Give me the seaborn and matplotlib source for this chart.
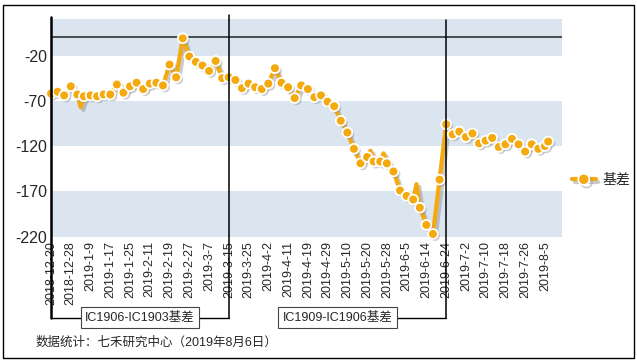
import pandas as pd
import numpy as np
import matplotlib.pyplot as plt
import matplotlib.patheffects as pe
from matplotlib.lines import Line2D
from matplotlib.patches import Rectangle
import seaborn as sb

# trading calendar (SSE holidays in the period)
holidays = ['2018-12-31', '2019-01-01', '2019-02-04', '2019-02-05', '2019-02-06',
            '2019-02-07', '2019-02-08', '2019-04-05', '2019-05-01', '2019-05-02',
            '2019-05-03', '2019-06-07']
trade_days = pd.bdate_range('2018-12-20', '2019-08-06', freq='C', holidays=holidays)

# basis read every second trading day (2018-12-20 ... 2019-8-5), then 2019-8-6
basis = [-62, -60, -64, -54, -63, -65, -64, -65, -63, -63,
         -52, -61, -54, -50, -57, -51, -50, -53, -30, -44,
         -1, -21, -27, -31, -37, -26, -45, -44, -47, -56,
         -51, -55, -57, -51, -34, -50, -55, -67, -53, -57,
         -66, -64, -71, -76, -92, -105, -123, -139, -132, -137,
         -137, -139, -148, -169, -175, -179, -188, -207, -217, -157,
         -96, -107, -104, -110, -106, -117, -114, -111, -121, -118,
         -112, -118, -126, -118, -123, -120]
last_basis = -115

# in-between days where the line spikes without a marker
spike_days = ['2019-01-04', '2019-05-21', '2019-05-27', '2019-06-11']
spike_vals = [-77, -125, -128, -162]

tick_labels = ['2018-12-20', '2018-12-28', '2019-1-9', '2019-1-17', '2019-1-25',
               '2019-2-11', '2019-2-19', '2019-2-27', '2019-3-7', '2019-3-15',
               '2019-3-25', '2019-4-2', '2019-4-11', '2019-4-19', '2019-4-29',
               '2019-5-10', '2019-5-20', '2019-5-28', '2019-6-5', '2019-6-14',
               '2019-6-24', '2019-7-2', '2019-7-10', '2019-7-18', '2019-7-26',
               '2019-8-5']
period_ends = ['2019-3-15', '2019-6-24']
period_names = ['IC1906-IC1903基差', 'IC1909-IC1906基差']
y_ticks = [-20, -70, -120, -170, -220]

orange = '#F4A90F'
band = '#DAE5F0'

sample_days = list(trade_days[:151:2]) + [trade_days[-1]]
df = pd.DataFrame({'date': sample_days + list(pd.to_datetime(spike_days)),
                   'basis': basis + [last_basis] + spike_vals,
                   'spike': [False] * (len(basis) + 1) + [True] * len(spike_vals)})
df['pos'] = trade_days.get_indexer(df['date'])
df = df.sort_values('pos').reset_index(drop=True)

sb.set_style('white')
plt.rcParams['font.family'] = ['Liberation Sans', 'Noto Sans CJK SC']

fig = plt.figure(figsize=(6.37, 3.63), dpi=100)
ax = fig.add_axes([0.0801, 0.348, 0.8022, 0.5988])

# alternating bands
for lo, hi in [(-20, 20), (-120, -70), (-220, -170)]:
    ax.axhspan(lo, hi, color=band, lw=0, zorder=0)
ax.axhline(0, color='#222222', lw=1.1, zorder=1)

shadow = [pe.SimpleLineShadow(offset=(2, -2), shadow_color='#8c8c8c', alpha=0.45), pe.Normal()]
sb.lineplot(data=df, x='pos', y='basis', color=orange, lw=3, ax=ax,
            path_effects=shadow, clip_on=False, zorder=3, legend=False)
sb.scatterplot(data=df[~df['spike']], x='pos', y='basis', color=orange, s=50,
               edgecolor='white', linewidth=1.3, ax=ax, clip_on=False, zorder=4,
               legend=False,
               path_effects=[pe.SimplePatchShadow(offset=(1.5, -1.5), shadow_rgbFace='#8c8c8c', alpha=0.4), pe.Normal()])

ax.set_xlim(0, 155.2)
ax.set_ylim(-220, 20)
ax.set_yticks(y_ticks)
ax.set_yticklabels([str(v) for v in y_ticks], fontsize=11.5)
tick_pos = trade_days.get_indexer(pd.to_datetime(tick_labels))
ax.set_xticks(tick_pos)
ax.set_xticklabels(tick_labels, rotation=90, fontsize=9)
ax.tick_params(length=0, pad=3)
ax.set_xlabel('')
ax.set_ylabel('')
for s in ax.spines.values():
    s.set_visible(False)

# period brackets below the axis
trans = ax.get_xaxis_transform()
yb = -0.372
ends = trade_days.get_indexer(pd.to_datetime(period_ends))
ax.plot([0, 0], [yb, 1.012], transform=trans, clip_on=False, color='black', lw=1.8, zorder=5)
starts = [0, ends[0]]
for k, (st, en) in enumerate(zip(starts, ends)):
    mid = (st + en) / 2
    x0 = st if k == 0 else mid
    ax.plot([x0, en], [yb, yb], transform=trans, clip_on=False, color='black', lw=1, zorder=5)
    ax.plot([en, en], [yb, 1.02 if k == 0 else 0.995], transform=trans, clip_on=False,
            color='black', lw=1.1, zorder=5)
    ax.text(mid, yb, period_names[k], transform=trans, ha='center', va='center', fontsize=9,
            zorder=6, bbox=dict(boxstyle='square,pad=0.35', fc='white', ec='#444444', lw=0.8))

# legend
handle = Line2D([], [], color=orange, lw=3, marker='o', ms=8, mfc=orange, mec='white', mew=1.2,
                path_effects=shadow)
ax.legend([handle], ['基差'], loc='center left', bbox_to_anchor=(0.995, 0.26), frameon=False,
          handlelength=1.7, handletextpad=0.5, fontsize=10)

fig.text(36 / 637, 20 / 363, '数据统计：七禾研究中心（2019年8月6日）', fontsize=9,
         ha='left', va='center')
fig.patches.append(Rectangle((3 / 637, 5 / 363), 631 / 637, 353 / 363, transform=fig.transFigure,
                             fill=False, ec='black', lw=1))

fig.savefig('out.png', dpi=100)
